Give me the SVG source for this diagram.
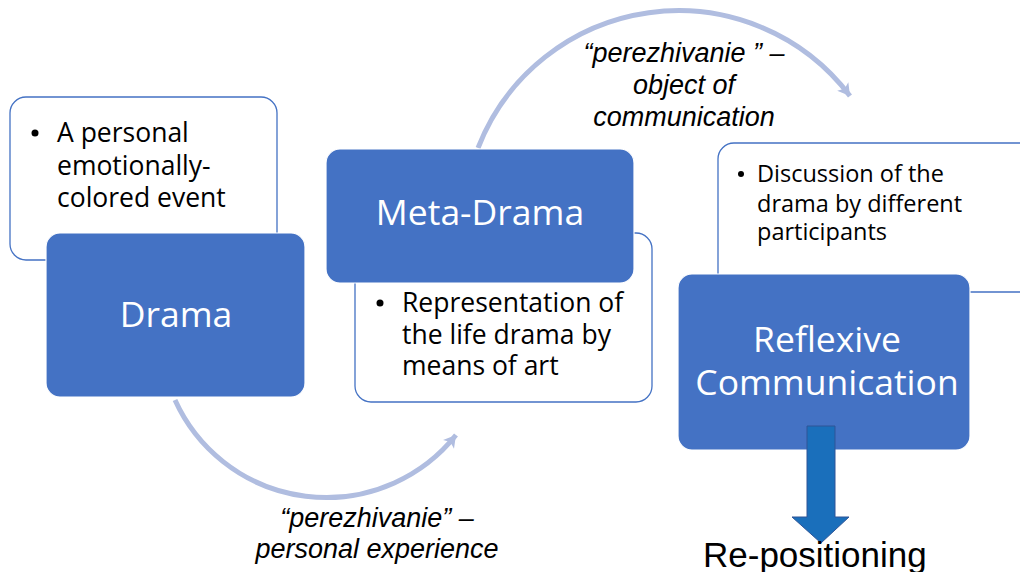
<svg xmlns="http://www.w3.org/2000/svg" width="1020" height="572" viewBox="0 0 1020 572">
<defs>
<style>
.wbox{fill:#ffffff;stroke:#4472c4;stroke-width:1.3}
.bbox{fill:#4472c4;stroke:#ffffff;stroke-width:1.2}
.title{font-family:"Open Sans","Noto Sans",sans-serif;font-size:35.5px;fill:#ffffff;text-anchor:middle}
.bul{font-family:"Open Sans","Noto Sans",sans-serif;font-size:26.5px;fill:#000000}
.bul2{font-family:"Open Sans","Noto Sans",sans-serif;font-size:23.5px;fill:#000000}
.lbl{font-family:"Liberation Sans",Arial,sans-serif;font-size:27px;font-style:italic;fill:#000000;text-anchor:middle}
.arc{fill:none;stroke:#b0bde0;stroke-width:5}
</style>
<marker id="ah" markerUnits="userSpaceOnUse" markerWidth="20" markerHeight="20" viewBox="0 0 20 20" refX="14" refY="10" orient="auto">
<path d="M2,3 L14,10 L2,17 L5,10 Z" fill="#b0bde0"/>
</marker>
</defs>
<rect width="1020" height="572" fill="#ffffff"/>
<g id="connectors">
<path class="arc" d="M478,148 A215,215 0 0 1 850,96" marker-end="url(#ah)"/>
<path class="arc" d="M175,400 A166,166 0 0 0 456,435" marker-end="url(#ah)"/>
</g>
<g id="drama">
<rect class="wbox" x="10" y="97" width="267" height="163" rx="16"/>
<circle cx="35" cy="133" r="3.5" fill="#000"/>
<text class="bul"><tspan x="57" y="142">A personal</tspan><tspan x="57" y="174.5">emotionally-</tspan><tspan x="57" y="207">colored event</tspan></text>
<rect class="bbox" x="46" y="233" width="259" height="164" rx="14"/>
<text class="title" x="176" y="327">Drama</text>
</g>
<g id="meta-drama">
<rect class="wbox" x="355" y="233" width="297" height="169" rx="16"/>
<circle cx="380" cy="303" r="3.5" fill="#000"/>
<text class="bul"><tspan x="402" y="312">Representation of</tspan><tspan x="402" y="343.5">the life drama by</tspan><tspan x="402" y="375">means of art</tspan></text>
<rect class="bbox" x="326" y="149" width="308" height="134" rx="14"/>
<text class="title" x="480" y="225">Meta-Drama</text>
</g>
<g id="reflexive">
<rect class="wbox" x="718" y="143" width="330" height="149" rx="16"/>
<circle cx="741" cy="174" r="3" fill="#000"/>
<text class="bul2"><tspan x="757" y="182">Discussion of the</tspan><tspan x="757" y="211.5">drama by different</tspan><tspan x="757" y="240">participants</tspan></text>
<rect class="bbox" x="678" y="274" width="292" height="176" rx="14"/>
<text class="title"><tspan x="827" y="352">Reflexive</tspan><tspan x="827" y="395">Communication</tspan></text>
</g>
<g id="label-top">
<text class="lbl"><tspan x="684" y="62">“perezhivanie ” –</tspan><tspan x="684" y="94">object of</tspan><tspan x="684" y="126">communication</tspan></text>
</g>
<g id="label-bottom">
<text class="lbl"><tspan x="377" y="527">“perezhivanie”  –</tspan><tspan x="377" y="558">personal experience</tspan></text>
</g>
<g id="repositioning">
<polygon points="807,426 835,426 835,517 849,517 821,543 792,517 807,517" fill="#1a6fbb" stroke="#2f5597" stroke-width="1"/>
<text x="703" y="567" font-family="'Liberation Sans',Arial,sans-serif" font-size="35" fill="#000">Re-positioning</text>
</g>
</svg>
